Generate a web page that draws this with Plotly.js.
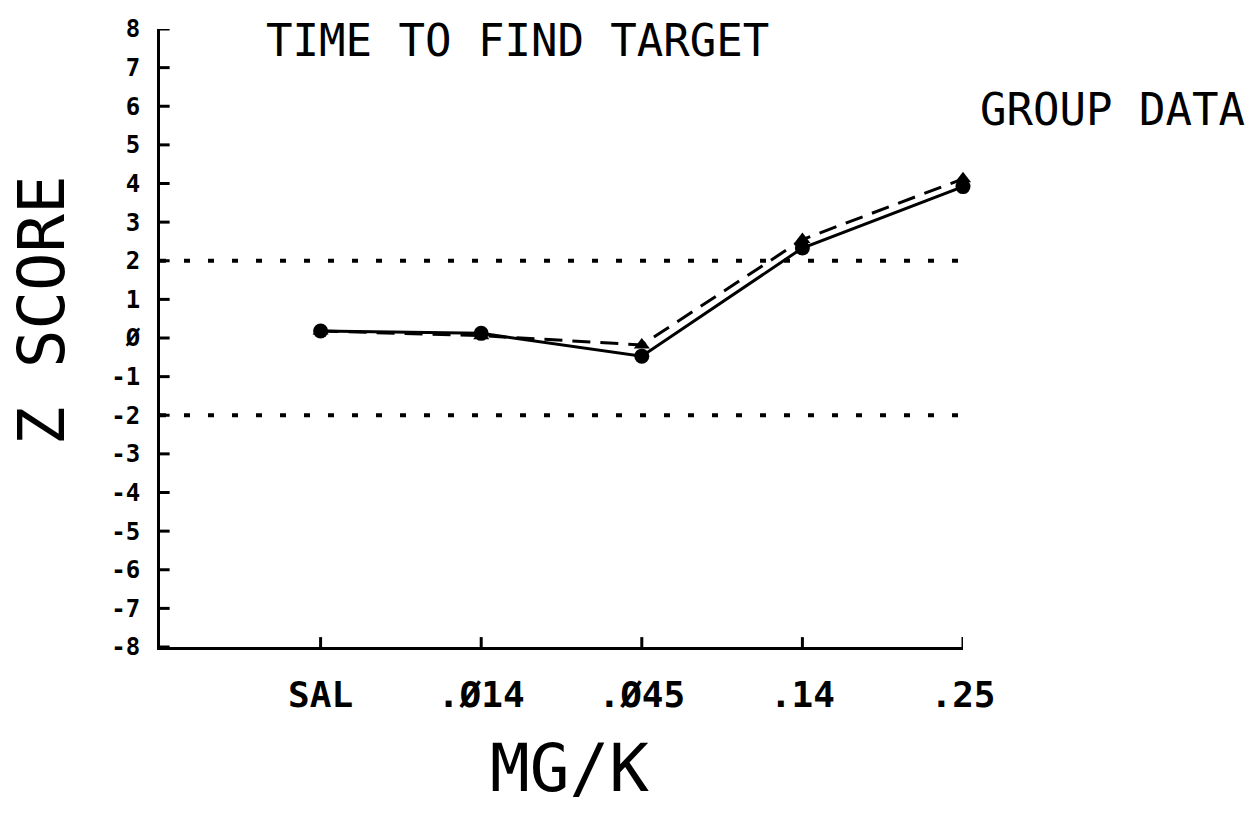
<!DOCTYPE html>
<html>
<head>
<meta charset="utf-8">
<script src="https://cdn.plot.ly/plotly-3.0.1.min.js"></script>
<style>html,body{margin:0;padding:0;background:#fff;}#chart{width:1257px;height:829px;}</style>
</head>
<body>
<div id="chart"></div>
<script>
const doses = ["SAL", ".Ø14", ".Ø45", ".14", ".25"];
const doseIndex = [0, 1, 2, 3, 4];
const solidSeries = [0.18, 0.12, -0.47, 2.33, 3.92];
const dashedSeries = [0.18, 0.06, -0.18, 2.55, 4.12];
const refLevels = [2, -2];
const yTickVals = [8,7,6,5,4,3,2,1,0,-1,-2,-3,-4,-5,-6,-7,-8];
const yTickText = ["8","7","6","5","4","3","2","1","Ø","-1","-2","-3","-4","-5","-6","-7","-8"];

const FONT = "DejaVu Sans Mono, monospace";

const traces = [
  {
    x: doseIndex, y: dashedSeries, mode: "lines+markers", type: "scatter",
    line: {color: "#000", width: 3, dash: "18px,10px"},
    marker: {symbol: "triangle-up", size: 14, color: "#000"},
    hoverinfo: "skip", showlegend: false, cliponaxis: false
  },
  {
    x: doseIndex, y: solidSeries, mode: "lines+markers", type: "scatter",
    line: {color: "#000", width: 3},
    marker: {symbol: "circle", size: 15, color: "#000"},
    hoverinfo: "skip", showlegend: false, cliponaxis: false
  }
];

const shapes = refLevels.map(v => ({
  type: "line", xref: "x", yref: "y", x0: -1, x1: 4, y0: v, y1: v,
  line: {color: "#000", width: 4, dash: "6px,18px"}
}));
// inward tick marks derived from the tick arrays
yTickVals.forEach(v => shapes.push({
  type: "line", xref: "x domain", yref: "y", x0: 0, x1: 0.012, y0: v, y1: v,
  line: {color: "#000", width: 3}
}));
doseIndex.forEach(v => shapes.push({
  type: "line", xref: "x", yref: "y domain", x0: v, x1: v, y0: 0, y1: 0.016,
  line: {color: "#000", width: 3}
}));

const layout = {
  width: 1257, height: 829,
  margin: {l: 160, r: 294, t: 29, b: 182},
  paper_bgcolor: "#fff", plot_bgcolor: "#fff",
  showlegend: false,
  shapes: shapes,
  xaxis: {
    range: [-1, 4], tickmode: "array", tickvals: doseIndex, ticktext: doses,
    showgrid: false, zeroline: false, showline: true, linecolor: "#000", linewidth: 3,
    ticks: "",
    ticklabelstandoff: 14,
    tickfont: {family: FONT, size: 36, color: "#000", weight: "bold"}
  },
  yaxis: {
    range: [-8, 8], tickmode: "array", tickvals: yTickVals, ticktext: yTickText,
    showgrid: false, zeroline: false, showline: true, linecolor: "#000", linewidth: 3,
    ticks: "",
    ticklabelstandoff: 12,
    tickfont: {family: FONT, size: 24, color: "#000", weight: "bold"}
  },
  annotations: [
    {text: "TIME TO FIND TARGET", xref: "paper", yref: "paper", x: 0.445, y: 0.982,
     xanchor: "center", yanchor: "middle", showarrow: false,
     font: {family: FONT, size: 44, color: "#000"}},
    {text: "GROUP DATA", xref: "paper", yref: "paper", x: 1.186, y: 0.869,
     xanchor: "center", yanchor: "middle", showarrow: false,
     font: {family: FONT, size: 44, color: "#000"}},
    {text: "Z SCORE", xref: "paper", yref: "paper", x: -0.147, y: 0.545,
     xanchor: "center", yanchor: "middle", showarrow: false, textangle: -90,
     font: {family: FONT, size: 64, color: "#000"}},
    {text: "MG/K", xref: "paper", yref: "paper", x: 0.51, y: -0.196,
     xanchor: "center", yanchor: "middle", showarrow: false,
     font: {family: FONT, size: 66, color: "#000"}}
  ]
};

Plotly.newPlot("chart", traces, layout, {staticPlot: true, displayModeBar: false});
</script>
</body>
</html>
